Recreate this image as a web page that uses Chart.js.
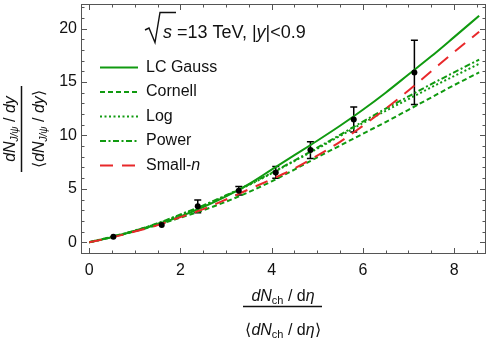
<!DOCTYPE html>
<html>
<head>
<meta charset="utf-8">
<script src="https://cdn.jsdelivr.net/npm/chart.js@4.4.0/dist/chart.umd.min.js"></script>
<style>
  body { margin: 0; background: #fff; }
  canvas { display: block; }
</style>
</head>
<body>
<canvas id="jpsiChart" width="491" height="338"></canvas>
<script>
// curve sampling points (x) and model predictions
var curveX   = [0, 0.5, 1, 1.5, 2, 2.5, 3, 3.5, 4, 4.5, 5, 5.5, 6, 6.5, 7, 7.5, 8, 8.55];
var lcGauss  = [0, 0.48, 1.05, 1.68, 2.42, 3.3, 4.3, 5.45, 6.8, 8.15, 9.5, 10.9, 12.4, 14.0, 15.7, 17.4, 19.2, 21.2];
var cornell  = [0, 0.47, 1.02, 1.62, 2.3, 3.0, 3.8, 4.7, 5.7, 6.8, 7.95, 9.05, 10.15, 11.25, 12.4, 13.55, 14.7, 15.9];
var logPot   = [0, 0.5, 1.08, 1.75, 2.55, 3.4, 4.35, 5.35, 6.45, 7.6, 8.75, 9.95, 11.15, 12.3, 13.4, 14.5, 15.55, 16.7];
var powerPot = [0, 0.52, 1.1, 1.78, 2.6, 3.45, 4.4, 5.4, 6.5, 7.65, 8.85, 10.05, 11.3, 12.5, 13.65, 14.8, 15.9, 17.1];
var smallN   = [0, 0.45, 1.0, 1.6, 2.35, 3.1, 4.0, 4.95, 5.9, 6.9, 8.1, 9.4, 10.9, 12.5, 14.2, 16.0, 17.8, 19.7];

// ALICE data
var dataX   = [0.53, 1.59, 2.38, 3.28, 4.09, 4.85, 5.8, 7.13];
var dataY   = [0.52, 1.62, 3.36, 4.82, 6.54, 8.63, 11.5, 15.9];
var dataErr = [0, 0, 0.6, 0.4, 0.55, 0.78, 1.17, 3.0];

var xTicks = [0, 2, 4, 6, 8];
var yTicks = [0, 5, 10, 15, 20];

var green = '#109a10';
var red = '#e8282a';
var FONT = '"Liberation Sans", Arial, sans-serif';

function pts(xs, ys) {
  return xs.map(function (x, i) { return { x: x, y: ys[i] }; });
}

function curve(label, ys, color, dash, order) {
  return {
    label: label,
    data: pts(curveX, ys),
    borderColor: color,
    borderWidth: 2,
    borderDash: dash,
    pointRadius: 0,
    cubicInterpolationMode: 'monotone',
    fill: false,
    order: order
  };
}

var datasets = [
  { label: 'data', type: 'scatter', data: pts(dataX, dataY), pointRadius: 3, pointBackgroundColor: '#000',
    pointBorderColor: '#000', borderWidth: 0, showLine: false, order: 0 },
  curve('Small-n', smallN, red, [13, 9], 1),
  curve('LC Gauss', lcGauss, green, [], 2),
  curve('Power', powerPot, green, [6, 2.5, 2, 2.5], 3),
  curve('Log', logPot, green, [2, 2.5], 4),
  curve('Cornell', cornell, green, [5, 3], 5)
];

var legendRows = [
  { text: 'LC Gauss', color: green, dash: [] },
  { text: 'Cornell', color: green, dash: [5, 3] },
  { text: 'Log', color: green, dash: [2, 2.5] },
  { text: 'Power', color: green, dash: [6, 2.5, 2, 2.5] },
  { text: 'Small-', italic: 'n', color: red, dash: [13, 9] }
];

// draw text runs centred on cx
function drawRuns(ctx, runs, cx, baseY) {
  var w = 0;
  runs.forEach(function (r) { ctx.font = r.font; r.w = ctx.measureText(r.t).width; w += r.w; });
  var x = cx - w / 2;
  ctx.textAlign = 'left';
  ctx.textBaseline = 'alphabetic';
  runs.forEach(function (r) {
    ctx.font = r.font;
    ctx.fillText(r.t, x, baseY + (r.dy || 0));
    x += r.w;
  });
  return w;
}

var decorPlugin = {
  id: 'decor',
  beforeDatasetsDraw: function (chart) {
    // error bars
    var ctx = chart.ctx, xs = chart.scales.x, ys = chart.scales.y;
    ctx.save();
    ctx.strokeStyle = '#000';
    ctx.lineWidth = 1.5;
    dataX.forEach(function (x, i) {
      if (!dataErr[i]) return;
      var px = xs.getPixelForValue(x);
      var top = ys.getPixelForValue(dataY[i] + dataErr[i]);
      var bot = ys.getPixelForValue(dataY[i] - dataErr[i]);
      ctx.beginPath();
      ctx.moveTo(px, top); ctx.lineTo(px, bot);
      ctx.moveTo(px - 3.5, top); ctx.lineTo(px + 3.5, top);
      ctx.moveTo(px - 3.5, bot); ctx.lineTo(px + 3.5, bot);
      ctx.stroke();
    });
    ctx.restore();
  },
  afterDraw: function (chart) {
    var ctx = chart.ctx, a = chart.chartArea, xs = chart.scales.x, ys = chart.scales.y;
    ctx.save();
    // frame
    ctx.strokeStyle = '#555';
    ctx.lineWidth = 1;
    ctx.strokeRect(Math.round(a.left) + 0.5, Math.round(a.top) + 0.5, Math.round(a.right - a.left) - 1, Math.round(a.bottom - a.top) - 1);
    // inward ticks on all four sides
    ctx.beginPath();
    var v, p, len;
    for (v = 0; v <= 8.5; v += 0.5) {
      p = Math.round(xs.getPixelForValue(v)) + 0.5;
      len = (v % 2 === 0) ? 6 : 3.5;
      ctx.moveTo(p, a.bottom); ctx.lineTo(p, a.bottom - len);
      ctx.moveTo(p, a.top); ctx.lineTo(p, a.top + len);
    }
    for (v = -1; v <= 22; v += 1) {
      p = Math.round(ys.getPixelForValue(v)) + 0.5;
      len = (v % 5 === 0) ? 6 : 3.5;
      ctx.moveTo(a.left, p); ctx.lineTo(a.left + len, p);
      ctx.moveTo(a.right, p); ctx.lineTo(a.right - len, p);
    }
    ctx.stroke();

    ctx.fillStyle = '#111';
    ctx.strokeStyle = '#111';
    // energy label with radical sign
    var f16 = '16px ' + FONT, i16 = 'italic 16px ' + FONT;
    var f18 = '18px ' + FONT, i18 = 'italic 18px ' + FONT;
    ctx.lineWidth = 1.4;
    ctx.beginPath();
    ctx.moveTo(145, 30); ctx.lineTo(149, 28); ctx.lineTo(155, 42.5); ctx.lineTo(160, 12.5); ctx.lineTo(176, 12.5);
    ctx.stroke();
    ctx.textAlign = 'left';
    ctx.textBaseline = 'alphabetic';
    var x0 = 163;
    [{ t: 's', font: i18 }, { t: ' =13 TeV, |', font: f18 }, { t: 'y', font: i18 }, { t: '|<0.9', font: f18 }]
      .forEach(function (r) { ctx.font = r.font; ctx.fillText(r.t, x0, 37.5); x0 += ctx.measureText(r.t).width; });

    // legend
    legendRows.forEach(function (row, i) {
      var y = 67.5 + i * 24.5;
      ctx.strokeStyle = row.color;
      ctx.lineWidth = 2;
      ctx.setLineDash(row.dash);
      ctx.beginPath();
      ctx.moveTo(100, y); ctx.lineTo(138, y);
      ctx.stroke();
      ctx.setLineDash([]);
      ctx.fillStyle = '#111';
      ctx.textBaseline = 'middle';
      ctx.font = f16;
      ctx.fillText(row.text, 146, y);
      if (row.italic) {
        var tw = ctx.measureText(row.text).width;
        ctx.font = i16;
        ctx.fillText(row.italic, 146 + tw, y);
      }
    });

    // x axis title (fraction)
    ctx.fillStyle = '#111';
    var sub = '11px ' + FONT;
    drawRuns(ctx, [{ t: 'dN', font: i16 }, { t: 'ch', font: sub, dy: 3 }, { t: ' / d', font: f16 }, { t: '\u03B7', font: i16 }], 283, 301);
    ctx.strokeStyle = '#111';
    ctx.lineWidth = 1.5;
    ctx.beginPath(); ctx.moveTo(243, 306.5); ctx.lineTo(322, 306.5); ctx.stroke();
    drawRuns(ctx, [{ t: '\u27E8', font: f16 }, { t: 'dN', font: i16 }, { t: 'ch', font: sub, dy: 3 }, { t: ' / d', font: f16 },
      { t: '\u03B7', font: i16 }, { t: '\u27E9', font: f16 }], 283, 335);

    // y axis title (rotated fraction)
    ctx.translate(0, 129);
    ctx.rotate(-Math.PI / 2);
    var subI = 'italic 10px ' + FONT;
    drawRuns(ctx, [{ t: 'dN', font: i16 }, { t: 'J/\u03C8', font: subI, dy: 3 }, { t: ' / ', font: f16 }, { t: 'dy', font: i16 }], 0, 15);
    ctx.beginPath(); ctx.moveTo(-43, 21.5); ctx.lineTo(43, 21.5); ctx.stroke();
    drawRuns(ctx, [{ t: '\u27E8', font: f16 }, { t: 'dN', font: i16 }, { t: 'J/\u03C8', font: subI, dy: 3 }, { t: ' / ', font: f16 },
      { t: 'dy', font: i16 }, { t: '\u27E9', font: f16 }], 0, 44);
    ctx.restore();
  }
};

var ctx = document.getElementById('jpsiChart').getContext('2d');
var myChart = new Chart(ctx, {
  type: 'line',
  data: { datasets: datasets },
  plugins: [decorPlugin],
  options: {
    responsive: false,
    animation: false,
    layout: { padding: { left: 0, top: 4, right: 5, bottom: 0 } },
    plugins: { legend: { display: false }, tooltip: { enabled: false } },
    scales: {
      x: {
        type: 'linear',
        min: -0.18,
        max: 8.7,
        grid: { display: false, drawTicks: false },
        border: { display: false },
        afterBuildTicks: function (s) { s.ticks = xTicks.map(function (v) { return { value: v }; }); },
        afterFit: function (s) { s.height = 84; s.paddingLeft = 0; s.paddingRight = 0; },
        ticks: { padding: 7, color: '#111', font: { family: FONT, size: 16 }, maxRotation: 0 }
      },
      y: {
        type: 'linear',
        min: -1.1,
        max: 22.3,
        grid: { display: false, drawTicks: false },
        border: { display: false },
        afterBuildTicks: function (s) { s.ticks = yTicks.map(function (v) { return { value: v }; }); },
        afterFit: function (s) { s.width = 81; s.paddingTop = 0; s.paddingBottom = 0; },
        ticks: { padding: 4, color: '#111', font: { family: FONT, size: 16 } }
      }
    }
  }
});
</script>
</body>
</html>
